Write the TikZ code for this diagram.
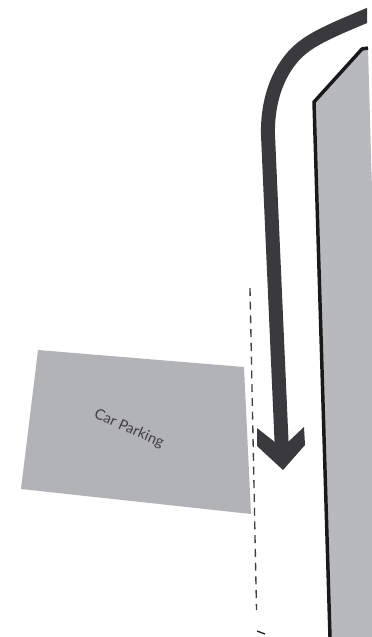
\documentclass[tikz,border=0pt]{standalone}
\usepackage{fontspec}
\setmainfont{Lato}
\usepackage{tikz}
\definecolor{lotgray}{RGB}{178,179,183}
\definecolor{blockgray}{RGB}{184,185,189}
\definecolor{roadgray}{RGB}{58,58,60}
\begin{document}
\begin{tikzpicture}[
  x=0.75pt, y=-0.75pt,
  every node/.style={font=\fontsize{11}{13}\selectfont},
  lot/.style={fill=lotgray, draw=none},
  block/.style={draw=black!90, line width=2.6pt, line join=miter},
  road/.style={draw=roadgray, line width=10.5pt},
  head/.style={fill=roadgray, draw=none},
  edge/.style={draw=black!75, line width=1pt, dash pattern=on 6pt off 4.3pt}]
\useasboundingbox (0,0) rectangle (372,637);
% parking lot
\fill[lot] (38,350) -- (244,367) -- (251,514) -- (21,489) -- cycle;
\node[rotate=-24, text=black!75] (parking) at (129,429) {Car Parking};
% boundary
\coordinate (edgetop) at (250,288);
\coordinate (edgebot) at (256.5,610);
\draw[edge] (edgetop) -- (edgebot);
\draw[black!85, line width=1pt] (257,631) -- (265,634);
% building
\fill[blockgray] (368,48) -- (362,49) -- (314,102) -- (330,637) -- (372,637) -- (372,190) -- cycle;
\draw[block] (368,48) -- (362,49) -- (314,102) -- (330,637);
% road arrow
\begin{scope}
\clip (0,0) rectangle (367,637);
\draw[road] (375,12) .. controls (345,25) and (318,35) .. (302,48)
  .. controls (282,64) and (267,95) .. (268,135) -- (282,452);
\end{scope}
\fill[head] (257,428) -- (276,443) -- (287,443) -- (304,427) -- (305,445) -- (283,470) -- (257,446) -- cycle;
\end{tikzpicture}
\end{document}
